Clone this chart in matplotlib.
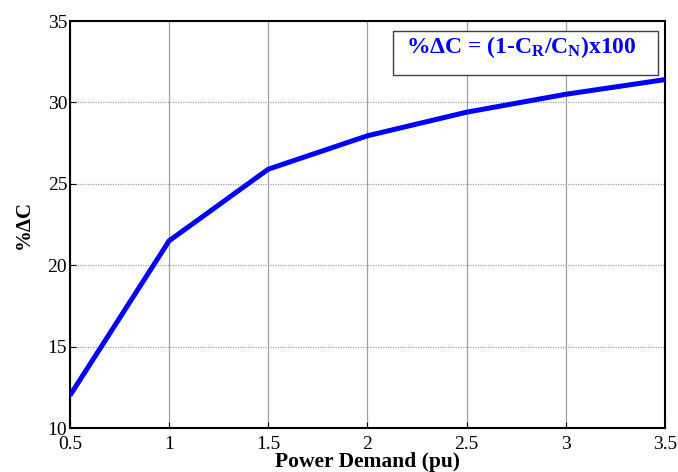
import matplotlib
matplotlib.use("Agg")
import matplotlib.pyplot as plt
from matplotlib.patches import Rectangle

power_demand = [0.5, 1.0, 1.5, 2.0, 2.5, 3.0, 3.5]
pct_delta_c = [12.0, 21.5, 25.9, 27.95, 29.4, 30.5, 31.4]
x_ticks = [0.5, 1, 1.5, 2, 2.5, 3, 3.5]
x_tick_labels = ["0.5", "1", "1.5", "2", "2.5", "3", "3.5"]
y_ticks = [10, 15, 20, 25, 30, 35]

plt.rcParams['font.family'] = ['Liberation Serif', 'DejaVu Serif']
plt.rcParams['mathtext.fontset'] = 'custom'
plt.rcParams['mathtext.rm'] = 'Liberation Serif:bold'
plt.rcParams['mathtext.it'] = 'Liberation Serif:bold'
plt.rcParams['mathtext.bf'] = 'Liberation Serif:bold'

fig = plt.figure(figsize=(6.78, 4.72), dpi=100)
ax = fig.add_axes([0.1032, 0.0932, 0.8776, 0.8623])

ax.plot(power_demand, pct_delta_c, color='#0000ff', linewidth=3.6, solid_capstyle='butt', zorder=3)

ax.set_xlim(0.5, 3.5)
ax.set_ylim(10, 35)
ax.set_xticks(x_ticks)
ax.set_xticklabels(x_tick_labels)
ax.set_yticks(y_ticks)
ax.tick_params(direction='in', length=4, labelsize=14, width=0.8, pad=2)
ax.tick_params(axis='x', pad=6)

ax.xaxis.grid(True, color='#a0a0a0', linewidth=0.9, linestyle='-')
ax.yaxis.grid(True, color='#a0a0a0', linewidth=0.9, linestyle=(0, (1, 1)))
for s in ax.spines.values():
    s.set_linewidth(1.5)

ax.set_xlabel('Power Demand (pu)', fontsize=15.5, fontweight='bold', labelpad=-1)
ax.set_ylabel('%ΔC', fontsize=15, fontweight='bold', labelpad=10)

ax.add_patch(Rectangle((0.543, 0.867), 0.445, 0.108, transform=ax.transAxes,
                       facecolor='white', edgecolor='#404040', linewidth=1.0, zorder=4))
ax.text(0.565, 0.935, '%ΔC = (1-C$_{R}$/C$_{N}$)x100',
        transform=ax.transAxes, fontsize=17, fontweight='bold', color='#0000ff',
        va='center', ha='left', zorder=5)

fig.savefig('out.png', dpi=100)
